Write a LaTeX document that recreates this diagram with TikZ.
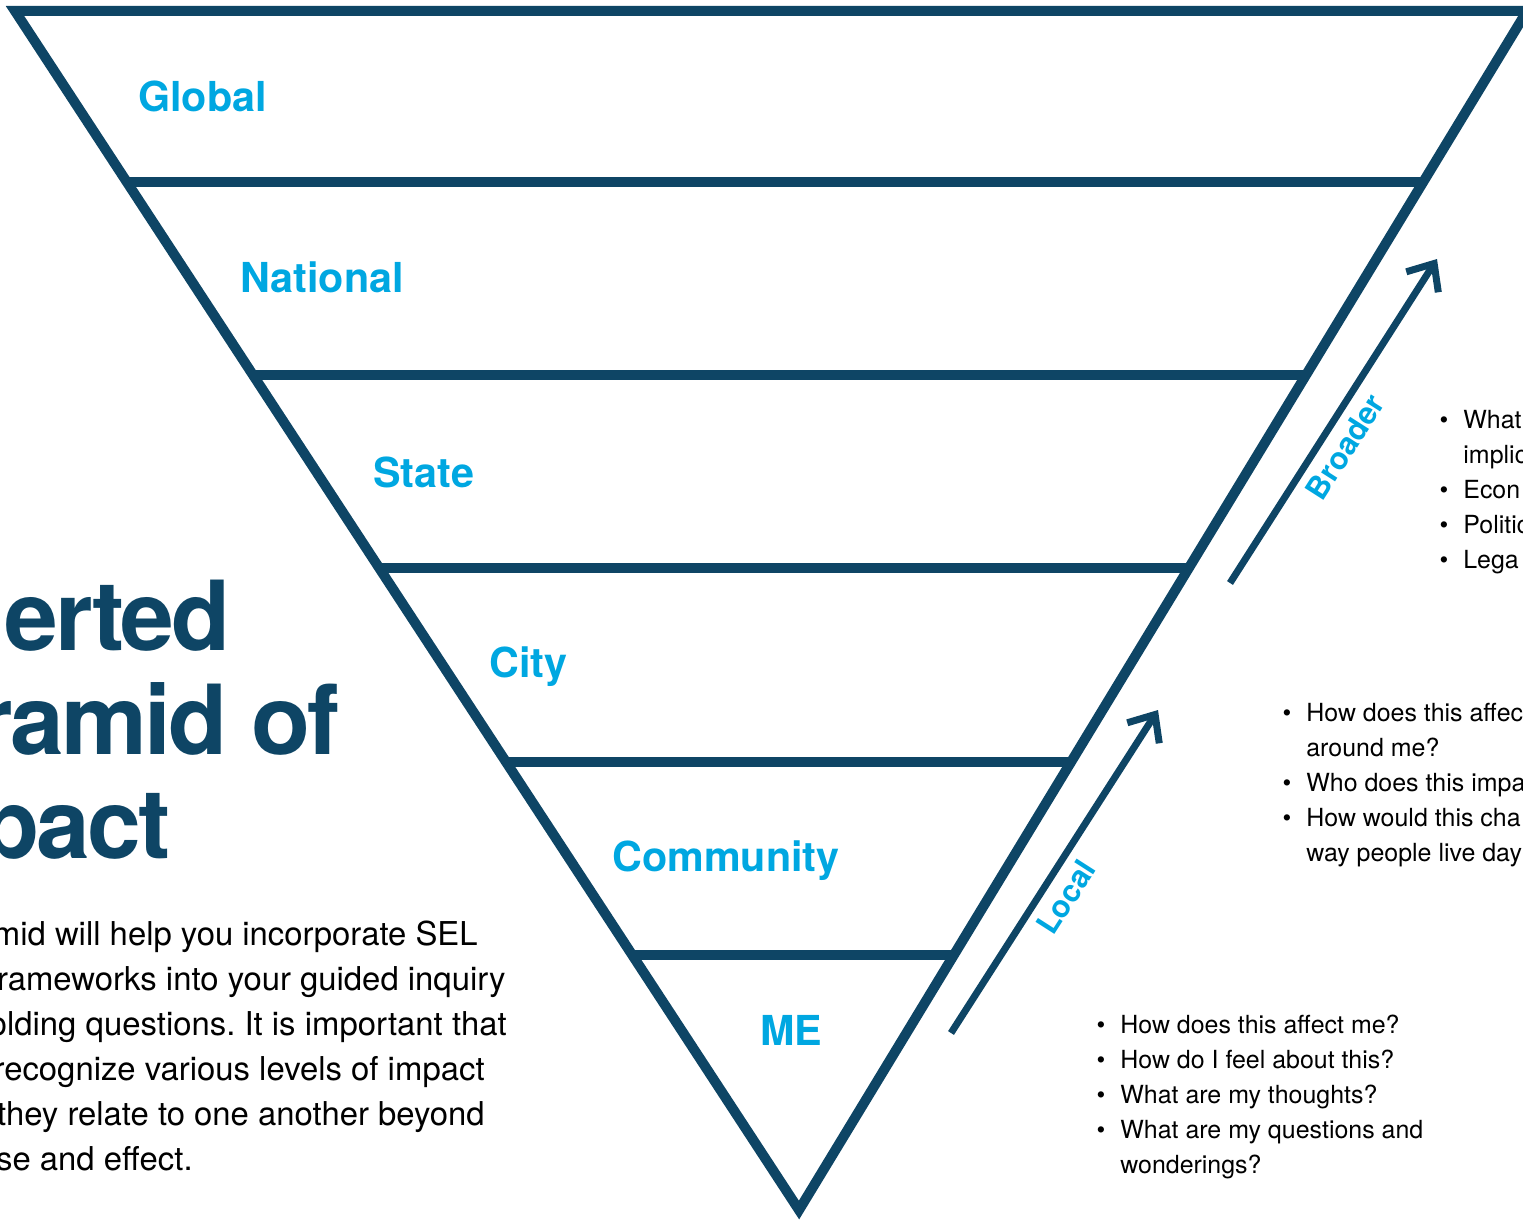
\documentclass[tikz,border=0pt]{standalone}
\usepackage{fontspec}
\setmainfont{TeX Gyre Heros}
\newfontfamily\titlefont[LetterSpace=-3]{TeX Gyre Heros}
\usepackage{tikz}
\usetikzlibrary{calc}
\usetikzlibrary{arrows.meta}
\definecolor{navy}{HTML}{0E4565}
\definecolor{sky}{HTML}{00A7E1}
\frenchspacing

\begin{document}
\begin{tikzpicture}[x=0.02cm, y=-0.02cm,
    level/.style={font=\fontsize{23.5}{28}\selectfont\bfseries, text=sky, anchor=base west, inner sep=0},
    title/.style={font=\titlefont\fontsize{55}{60}\selectfont\bfseries, text=navy, anchor=base east, inner sep=0},
    body/.style={font=\fontsize{18.7}{22}\selectfont, anchor=base east, inner sep=0},
    quest/.style={font=\fontsize{14.2}{17}\selectfont, anchor=base west, inner sep=0},
    side/.style={font=\fontsize{17.5}{20}\selectfont\bfseries, text=sky, sloped, below, inner sep=5pt}]
        \clip (0,0) rectangle (1523,1220);

        % outline and bands
        \coordinate (tl) at (15,11);
        \coordinate (tr) at (1527,11);
        \coordinate (ap) at (799,1210);
        \draw[navy, line width=0.2cm, line join=miter] (tl) -- (tr) -- (ap) -- cycle;
        \foreach \y in {182, 375, 568, 762, 955} {
          \pgfmathsetmacro{\pos}{(\y-11)/1199}
          \draw[navy, line width=0.2cm] ($(tl)!\pos!(ap)$) -- ($(tr)!\pos!(ap)$);
        }

        \node[level] (global) at (138,112) {Global};
        \node[level] (national) at (240,292) {National};
        \node[level] (state) at (373,487) {State};
        \node[level] (city) at (489,677) {City};
        \node[level] (community) at (612,871) {Community};
        \node[level] (me) at (760,1045) {ME};

        % arrows
        \coordinate (btail) at (1230,583);
        \coordinate (bhead) at (1437,259);
        \coordinate (ltail) at (951,1033);
        \coordinate (lhead) at (1158,710);
        \draw[navy, line width=0.14cm, -{Straight Barb[length=0.44cm, width=0.76cm, line cap=butt, line join=miter]}] (btail) -- node[side, pos=0.46] (broader) {Broader} (bhead);
        \draw[navy, line width=0.14cm, -{Straight Barb[length=0.44cm, width=0.76cm, line cap=butt, line join=miter]}] (ltail) -- node[side, pos=0.46] (local) {Local} (lhead);

        % title and text on the left
        \node[title] (title1) at (231,650) {erted};
        \node[title] (title2) at (340,754) {ramid of};
        \node[title] (title3) at (171,858) {pact};
        \foreach \txt/\xr [count=\i] in {mid will help you incorporate SEL/478, rameworks into your guided inquiry/506, olding questions. It is important that/507, recognize various levels of impact/485, they relate to one another beyond/485, se and effect./193}
          \node[body] (body\i) at (\xr, {900+45*\i}) {\txt};

        % question lists
        \foreach \b/\txt [count=\i] in {1/What, 0/implic, 1/Econ, 1/Politic, 1/Lega} {
          \node[quest] (gq\i) at (1463, {393+35*\i}) {\txt};
          \ifnum\b=1 \node[quest, anchor=base] (gb\i) at (1444, {393+35*\i}) {\textbullet};\fi
        }
        \foreach \b/\txt [count=\i] in {1/How does this affec, 0/around me?, 1/Who does this impa, 1/How would this cha, 0/way people live day} {
          \node[quest] (cq\i) at (1306, {686+35*\i}) {\txt};
          \ifnum\b=1 \node[quest, anchor=base] (cb\i) at (1287, {686+35*\i}) {\textbullet};\fi
        }
        \foreach \b/\txt [count=\i] in {1/How does this affect me?, 1/How do I feel about this?, 1/What are my thoughts?, 1/What are my questions and, 0/wonderings?} {
          \node[quest] (mq\i) at (1120, {998+35*\i}) {\txt};
          \ifnum\b=1 \node[quest, anchor=base] (mb\i) at (1101, {998+35*\i}) {\textbullet};\fi
        }
      \end{tikzpicture}
\end{document}
